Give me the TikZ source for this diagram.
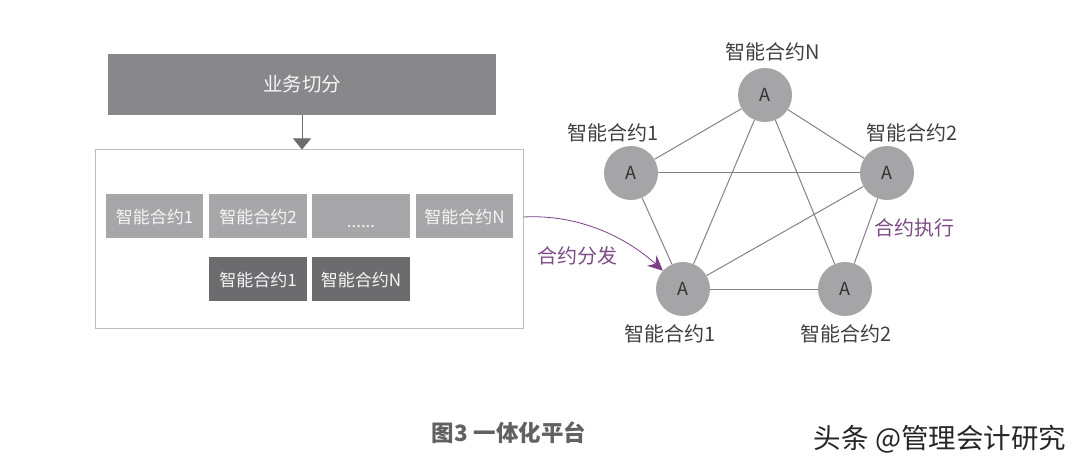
\documentclass[tikz,border=0pt]{standalone}
\usepackage{fontspec}
\setmainfont{Noto Sans CJK SC}
\usetikzlibrary{arrows.meta}
\newcommand{\boxFont}{\fontsize{17}{19}\selectfont}
\newcommand{\nameFont}{\fontsize{20}{22}\selectfont}
\definecolor{segGray}{HTML}{88888B}
\definecolor{lightGray}{HTML}{A7A7A9}
\definecolor{darkGray}{HTML}{6C6C6E}
\definecolor{frameGray}{HTML}{BDBDBF}
\definecolor{nodeGray}{HTML}{A5A5A8}
\definecolor{edgeGray}{HTML}{85808C}
\definecolor{flowPurple}{HTML}{7B3F86}
\tikzset{
   contract/.style={fill=lightGray, text=white!88!lightGray, minimum width=97.5pt, minimum height=44pt, inner sep=0pt, text height=16pt, text depth=0pt, font=\boxFont},
   peer/.style={circle, fill=nodeGray, text=black!80, minimum size=54pt, inner sep=0pt, font=\fontsize{18}{20}\selectfont},
   peername/.style={text=black!75, inner sep=0pt, font=\nameFont},
   flowname/.style={text=flowPurple!80!gray, inner sep=0pt, font=\fontsize{20}{22}\selectfont}
}

\begin{document}
\begin{tikzpicture}[x=1pt, y=-1pt]
   \useasboundingbox (0,0) rectangle (1080,468);

   \node (seg) [fill=segGray, text=white!92!segGray, minimum width=388pt, minimum height=61pt, inner sep=0pt, font=\fontsize{19.5}{21}\selectfont] at (302,84.5) {\raisebox{2pt}{业务切分}};
   \node (frame) [draw=frameGray, thick, minimum width=428pt, minimum height=179pt, inner sep=0pt] at (309.25,238.5) {};
   \coordinate (segtip) at (302,149.5);
   \draw [-{Triangle[length=11pt,width=18pt]},thick,color=darkGray] (seg.south -| segtip) -- (segtip);

   \node (c1) [contract] at (154.5,216) {智能合约1};
   \node (c2) [contract] at (258,216) {智能合约2};
   \node (c3) [contract] at (361,216) {\raisebox{-3pt}{......}};
   \node (c4) [contract] at (464.5,216) {智能合约N};
   \node (d1) [contract, fill=darkGray] at (258,278.5) {智能合约1};
   \node (d2) [contract, fill=darkGray] at (361,278.5) {智能合约N};

   \node (pn) [peer] at (765,95) {A};
   \node (pa) [peer] at (631,173) {A};
   \node (pb) [peer] at (887,173) {A};
   \node (pc) [peer] at (683,289) {A};
   \node (pd) [peer] at (845,289) {A};

   \foreach \a/\b in {pn/pa,pn/pb,pn/pc,pn/pd,pa/pb,pa/pc,pb/pc,pb/pd,pc/pd}
   {%
      \draw [color=edgeGray, line width=1pt] (\a) -- (\b);
   }

   \node (ln) [peername] at (772.5,52) {智能合约N};
   \node (la) [peername] at (613.5,133) {智能合约1};
   \node (lb) [peername] at (912,133) {智能合约2};
   \node (lc) [peername] at (670,334) {智能合约1};
   \node (ld) [peername] at (846,334) {智能合约2};

   \coordinate (flowstart) at (523.5,217);
   \draw [-{Stealth[length=15pt,width=14pt]},color=flowPurple,line width=0.8pt] (flowstart) .. controls (580,214) and (627,238) .. (pc);
   \node (flowa) [flowname] at (577,256) {合约分发};
   \node (flowb) [flowname] at (914,228) {合约执行};

   \node (title) [text=black!62, inner sep=0pt, font=\fontsize{22.5}{24}\selectfont\bfseries] at (509,433) {图3\hspace{6pt}一体化平台};
   \node (mark) [text=black!85, inner sep=0pt, font=\fontsize{27.5}{30}\selectfont] at (940,439) {头条 @管理会计研究};
\end{tikzpicture}
\end{document}
